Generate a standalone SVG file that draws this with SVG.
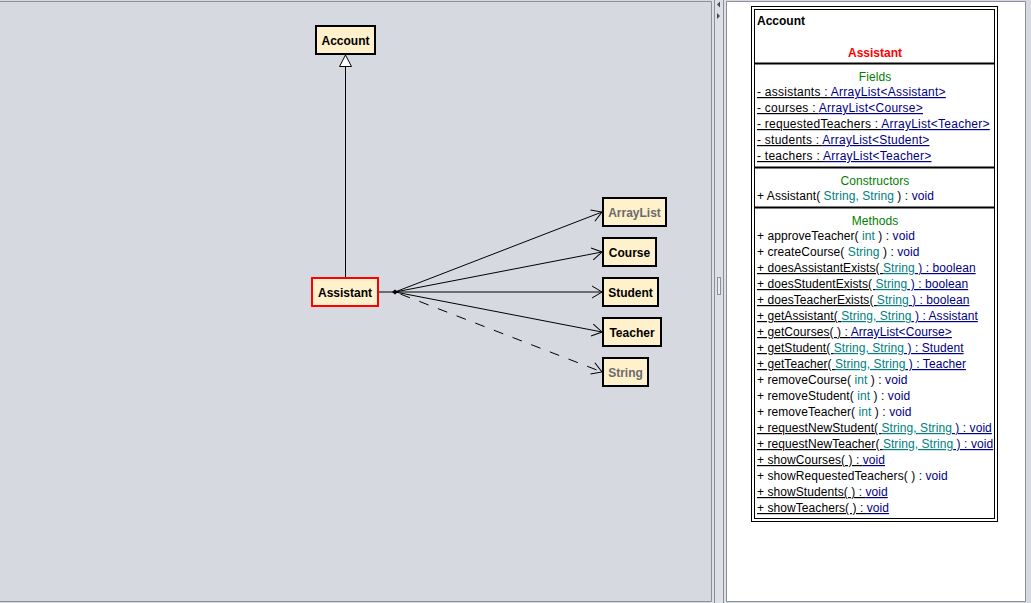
<svg xmlns="http://www.w3.org/2000/svg" width="1031" height="603" viewBox="0 0 1031 603">
  <style>
    .frame { stroke: #8c9099; stroke-width: 1; fill: none; }
    .node rect { fill: #fff1cb; stroke: #000; stroke-width: 2; }
    .node text { font-family: "Liberation Sans", Arial, sans-serif; font-size: 12px; font-weight: bold; text-anchor: middle; fill: #000; }
    .node.lib text { fill: #6b6b6b; }
    .node.sel rect { stroke: #ff0000; }
    .edge { stroke: #000; stroke-width: 1; fill: none; }
    .dashed { stroke-dasharray: 10 10; }
    .panel text { font-family: "Liberation Sans", Arial, sans-serif; font-size: 12px; fill: #000; white-space: pre; letter-spacing: 0.07px; }
    .panel .fld { letter-spacing: 0.25px; }
    .panel .title { font-weight: bold; letter-spacing: 0; }
    .panel .cls { font-weight: bold; fill: #ff0000; text-anchor: middle; letter-spacing: 0; }
    .panel .sec { fill: #008000; text-anchor: middle; }
    .panel .t { fill: #000080; }
    .panel .p { fill: #008080; }
    .panel .u tspan { text-decoration: underline; }
    .sep { stroke: #000; stroke-width: 2; }
  </style>
  <defs>
    <marker id="open" markerUnits="userSpaceOnUse" markerWidth="14" markerHeight="14" viewBox="-1 -7 12 14" refX="10" refY="0" orient="auto">
      <path d="M0,-6 L10,0 L0,6" fill="none" stroke="#000" stroke-width="1"/>
    </marker>
  </defs>

  <!-- window background and split pane -->
  <rect x="0" y="0" width="1031" height="603" fill="#d6d9e0"/>
  <rect x="712" y="0" width="14" height="603" fill="#dde0e6"/>
  <rect x="727" y="2" width="298" height="599" fill="#ffffff"/>
  <path class="frame" d="M0,1.5 H711.5 V601.5 H0"/>
  <path class="frame" d="M714.5,0 V603 M723.5,0 V603"/>
  <path class="frame" d="M726.5,1.5 H1025.5 V601.5 H726.5 Z"/>
  <rect x="717.5" y="277.5" width="3" height="17" fill="#e9ebef" stroke="#8c9099"/>
  <path d="M717,4.5 L720,1.5 L720,7.5 Z" fill="#4a4a4a"/>
  <path d="M720,16 L717,13 L717,19 Z" fill="#4a4a4a"/>

  <!-- connectors -->
  <g id="connectors">
    <line class="edge" x1="345.5" y1="277" x2="345.5" y2="66.5"/>
    <path d="M345.5,55 L351.5,66.5 L339.5,66.5 Z" fill="#fff" stroke="#000" stroke-width="1"/>
    <line class="edge" x1="379" y1="292" x2="395" y2="292"/>
    <path d="M392,292 L395,289.5 L398,292 L395,294.5 Z" fill="#000"/>
    <line class="edge" x1="395" y1="292" x2="602" y2="212" marker-end="url(#open)"/>
    <line class="edge" x1="395" y1="292" x2="602" y2="252" marker-end="url(#open)"/>
    <line class="edge" x1="395" y1="292" x2="602" y2="292" marker-end="url(#open)"/>
    <line class="edge" x1="395" y1="292" x2="602" y2="332" marker-end="url(#open)"/>
    <line class="edge dashed" x1="395" y1="292" x2="602" y2="372" stroke-dashoffset="-6" marker-end="url(#open)"/>
  </g>

  <!-- class nodes -->
  <g id="node-account" class="node">
    <rect x="316" y="26" width="59" height="28"/>
    <text x="345.5" y="44.5">Account</text>
  </g>
  <g id="node-assistant" class="node sel">
    <rect x="312" y="278" width="66" height="28"/>
    <text x="345" y="296.5">Assistant</text>
  </g>
  <g id="node-arraylist" class="node lib">
    <rect x="603" y="198" width="63" height="28"/>
    <text x="634.5" y="216.5">ArrayList</text>
  </g>
  <g id="node-course" class="node">
    <rect x="603" y="238" width="53" height="28"/>
    <text x="629.5" y="256.5">Course</text>
  </g>
  <g id="node-student" class="node">
    <rect x="603" y="278" width="55" height="28"/>
    <text x="630.5" y="296.5">Student</text>
  </g>
  <g id="node-teacher" class="node">
    <rect x="603" y="318" width="58" height="28"/>
    <text x="632" y="336.5">Teacher</text>
  </g>
  <g id="node-string" class="node lib">
    <rect x="603" y="358" width="45" height="28"/>
    <text x="625.5" y="376.5">String</text>
  </g>

  <!-- class detail panel -->
  <g id="class-detail" class="panel">
    <rect x="751.5" y="6.5" width="246" height="515" fill="#fff" stroke="#000"/>
    <rect x="754.5" y="9.5" width="240" height="509" fill="none" stroke="#000"/>
    <text class="title" x="757" y="25">Account</text>
    <text class="cls" x="875" y="57">Assistant</text>
    <line class="sep" x1="755" y1="63.5" x2="994" y2="63.5"/>

    <text class="sec" x="875" y="81">Fields</text>
    <text class="u fld" x="757" y="96"><tspan>- assistants : </tspan><tspan class="t">ArrayList&lt;Assistant&gt;</tspan></text>
    <text class="u fld" x="757" y="112"><tspan>- courses : </tspan><tspan class="t">ArrayList&lt;Course&gt;</tspan></text>
    <text class="u fld" x="757" y="128"><tspan>- requestedTeachers : </tspan><tspan class="t">ArrayList&lt;Teacher&gt;</tspan></text>
    <text class="u fld" x="757" y="144"><tspan>- students : </tspan><tspan class="t">ArrayList&lt;Student&gt;</tspan></text>
    <text class="u fld" x="757" y="160"><tspan>- teachers : </tspan><tspan class="t">ArrayList&lt;Teacher&gt;</tspan></text>
    <line class="sep" x1="755" y1="167.5" x2="994" y2="167.5"/>

    <text class="sec" x="875" y="185">Constructors</text>
    <text x="757" y="200"><tspan>+ Assistant( </tspan><tspan class="p">String, String</tspan><tspan> ) : </tspan><tspan class="t">void</tspan></text>
    <line class="sep" x1="755" y1="207.5" x2="994" y2="207.5"/>

    <text class="sec" x="875" y="225">Methods</text>
    <text x="757" y="240"><tspan>+ approveTeacher( </tspan><tspan class="p">int</tspan><tspan> ) : </tspan><tspan class="t">void</tspan></text>
    <text x="757" y="256"><tspan>+ createCourse( </tspan><tspan class="p">String</tspan><tspan> ) : </tspan><tspan class="t">void</tspan></text>
    <text class="u" x="757" y="272"><tspan>+ doesAssistantExists( </tspan><tspan class="p">String</tspan><tspan class="t"> ) : boolean</tspan></text>
    <text class="u" x="757" y="288"><tspan>+ doesStudentExists( </tspan><tspan class="p">String</tspan><tspan class="t"> ) : boolean</tspan></text>
    <text class="u" x="757" y="304"><tspan>+ doesTeacherExists( </tspan><tspan class="p">String</tspan><tspan class="t"> ) : boolean</tspan></text>
    <text class="u" x="757" y="320"><tspan>+ getAssistant( </tspan><tspan class="p">String, String</tspan><tspan class="t"> ) : Assistant</tspan></text>
    <text class="u" x="757" y="336"><tspan>+ getCourses( ) : </tspan><tspan class="t">ArrayList&lt;Course&gt;</tspan></text>
    <text class="u" x="757" y="352"><tspan>+ getStudent( </tspan><tspan class="p">String, String</tspan><tspan class="t"> ) : Student</tspan></text>
    <text class="u" x="757" y="368"><tspan>+ getTeacher( </tspan><tspan class="p">String, String</tspan><tspan class="t"> ) : Teacher</tspan></text>
    <text x="757" y="384"><tspan>+ removeCourse( </tspan><tspan class="p">int</tspan><tspan> ) : </tspan><tspan class="t">void</tspan></text>
    <text x="757" y="400"><tspan>+ removeStudent( </tspan><tspan class="p">int</tspan><tspan> ) : </tspan><tspan class="t">void</tspan></text>
    <text x="757" y="416"><tspan>+ removeTeacher( </tspan><tspan class="p">int</tspan><tspan> ) : </tspan><tspan class="t">void</tspan></text>
    <text class="u" x="757" y="432"><tspan>+ requestNewStudent( </tspan><tspan class="p">String, String</tspan><tspan class="t"> ) : void</tspan></text>
    <text class="u" x="757" y="448"><tspan>+ requestNewTeacher( </tspan><tspan class="p">String, String</tspan><tspan class="t"> ) : void</tspan></text>
    <text class="u" x="757" y="464"><tspan>+ showCourses( ) : </tspan><tspan class="t">void</tspan></text>
    <text x="757" y="480"><tspan>+ showRequestedTeachers( ) : </tspan><tspan class="t">void</tspan></text>
    <text class="u" x="757" y="496"><tspan>+ showStudents( ) : </tspan><tspan class="t">void</tspan></text>
    <text class="u" x="757" y="512"><tspan>+ showTeachers( ) : </tspan><tspan class="t">void</tspan></text>
  </g>
</svg>
